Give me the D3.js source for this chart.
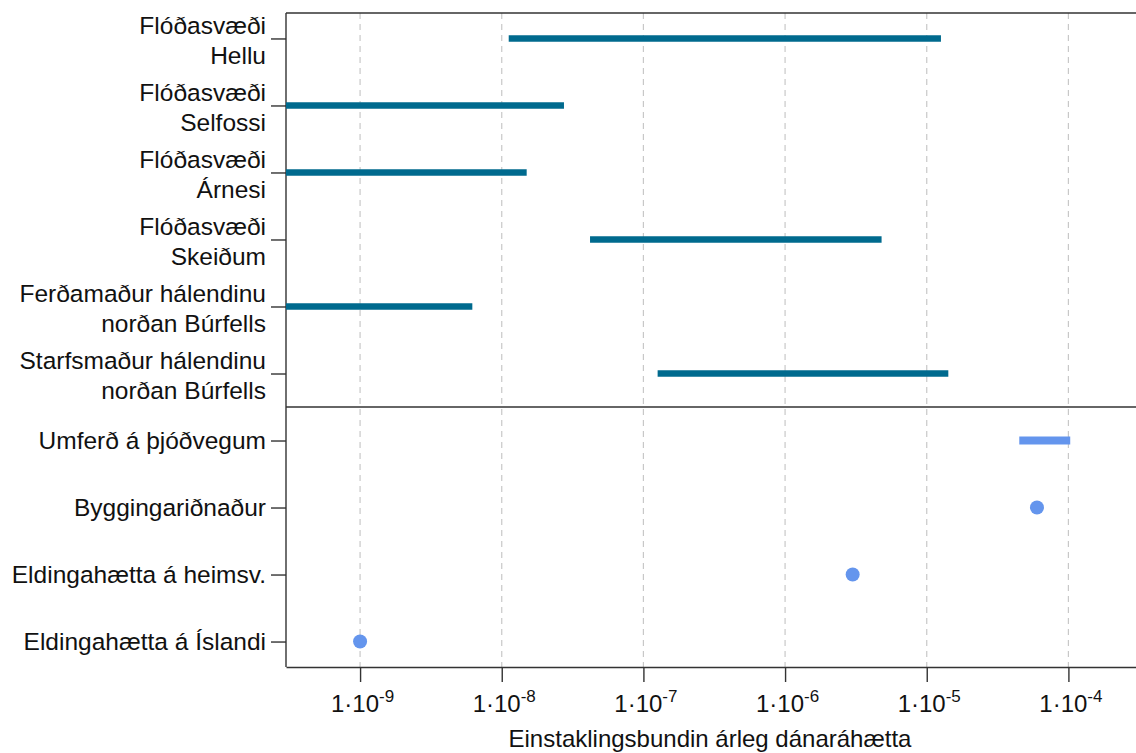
<!DOCTYPE html>
<html lang="is">
<head>
<meta charset="UTF-8">
<title>Einstaklingsbundin árleg dánaráhætta</title>
<script src="https://d3js.org/d3.v7.min.js"></script>
<style>
    body { margin: 0; background: #fff; }
    svg { display: block; font-family: "Liberation Sans", Arial, sans-serif; }
    .grid line { stroke: #c8c8c8; stroke-width: 1.2px; stroke-dasharray: 6,5; }
    .axis path, .axis line { stroke: #333; stroke-width: 1.4px; }
    .axis text { fill: #111; }
</style>
</head>
<body>
<script>
    // labels (two lines each), top panel then bottom panel
    const labels = [
        ["Flóðasvæði", "Hellu"],
        ["Flóðasvæði", "Selfossi"],
        ["Flóðasvæði", "Árnesi"],
        ["Flóðasvæði", "Skeiðum"],
        ["Ferðamaður hálendinu", "norðan Búrfells"],
        ["Starfsmaður hálendinu", "norðan Búrfells"],
        ["Umferð á þjóðvegum"],
        ["Byggingariðnaður"],
        ["Eldingahætta á heimsv."],
        ["Eldingahætta á Íslandi"]
    ];
    const group = ["top", "top", "top", "top", "top", "top", "bottom", "bottom", "bottom", "bottom"];
    // risk ranges (low, high); equal values are drawn as points
    const lowValues  = [1.12e-8, 3e-10, 3e-10, 4.2e-8, 3e-10, 1.26e-7, 4.5e-5, 6e-5, 3e-6, 1e-9];
    const highValues = [1.26e-5, 2.75e-8, 1.5e-8, 4.8e-6, 6.2e-9, 1.42e-5, 1.03e-4, 6e-5, 3e-6, 1e-9];
    const tickValues = [1e-9, 1e-8, 1e-7, 1e-6, 1e-5, 1e-4];
    const xTitle = "Einstaklingsbundin árleg dánaráhætta";

    const width = 1136, height = 753;
    const margin = { top: 13, right: 0, bottom: 86, left: 286 };

    const colors = { top: "#006a8e", bottom: "#6495ed" };

    const data = labels.map((l, i) => ({
        id: i,
        label: l,
        group: group[i],
        low: lowValues[i],
        high: highValues[i]
    }));

    const svg = d3.select("body").append("svg")
        .attr("width", width)
        .attr("height", height);

    const x = d3.scaleLog()
        .domain([3e-10, 3e-4])
        .range([margin.left, width - margin.right]);

    const y = d3.scalePoint()
        .domain(data.map(d => d.id))
        .range([margin.top, height - margin.bottom])
        .padding(0.38);

    // dashed vertical grid
    svg.append("g")
        .attr("class", "grid")
        .selectAll("line")
        .data(tickValues)
        .join("line")
        .attr("x1", d => x(d)).attr("x2", d => x(d))
        .attr("y1", margin.top).attr("y2", height - margin.bottom);

    // x axis
    const xAxis = svg.append("g")
        .attr("class", "axis")
        .attr("transform", `translate(0,${height - margin.bottom})`)
        .call(d3.axisBottom(x).tickValues(tickValues).tickSize(15).tickSizeOuter(0).tickFormat(""));

    xAxis.selectAll(".tick").append("text")
        .attr("y", 45)
        .attr("x", 2)
        .attr("text-anchor", "middle")
        .style("font-size", "24px")
        .each(function (d) {
            const t = d3.select(this);
            t.append("tspan").text("1·10");
            t.append("tspan")
                .attr("dy", -10)
                .style("font-size", "17px")
                .text(Math.round(Math.log10(d)));
        });

    svg.append("text")
        .attr("x", 710)
        .attr("y", 747)
        .attr("text-anchor", "middle")
        .style("font-size", "24px")
        .attr("fill", "#111")
        .text(xTitle);

    // y axis
    const yAxis = svg.append("g")
        .attr("class", "axis")
        .attr("transform", `translate(${margin.left},0)`)
        .call(d3.axisLeft(y).tickSize(15).tickSizeOuter(0).tickFormat(""));

    yAxis.select(".domain").attr("d", `M0,${margin.top}V${height - margin.bottom}`);

    yAxis.selectAll(".tick").append("text")
        .attr("x", -20)
        .attr("text-anchor", "end")
        .style("font-size", "24.5px")
        .each(function (id) {
            const lines = labels[id];
            const t = d3.select(this);
            const start = lines.length === 1 ? 8 : -5;
            lines.forEach((s, k) => {
                t.append("tspan")
                    .attr("x", -20)
                    .attr("y", start + k * 30)
                    .text(s);
            });
        });

    // frame top and panel divider
    const topIds = data.filter(d => d.group === "top").map(d => d.id);
    const dividerY = (y(topIds[topIds.length - 1]) + y(topIds[topIds.length - 1] + 1)) / 2;
    svg.append("line")
        .attr("x1", margin.left).attr("x2", width)
        .attr("y1", margin.top).attr("y2", margin.top)
        .attr("stroke", "#333").attr("stroke-width", 1.4);
    svg.append("line")
        .attr("x1", margin.left).attr("x2", width)
        .attr("y1", dividerY).attr("y2", dividerY)
        .attr("stroke", "#333").attr("stroke-width", 1.4);

    // ranges
    svg.append("g")
        .selectAll("line")
        .data(data.filter(d => d.low !== d.high))
        .join("line")
        .attr("x1", d => x(d.low))
        .attr("x2", d => x(d.high))
        .attr("y1", d => y(d.id))
        .attr("y2", d => y(d.id))
        .attr("stroke", d => colors[d.group])
        .attr("stroke-width", d => d.group === "top" ? 6.5 : 8);

    // points
    svg.append("g")
        .selectAll("circle")
        .data(data.filter(d => d.low === d.high))
        .join("circle")
        .attr("cx", d => x(d.low))
        .attr("cy", d => y(d.id))
        .attr("r", 7)
        .attr("fill", d => colors[d.group]);
</script>
</body>
</html>
